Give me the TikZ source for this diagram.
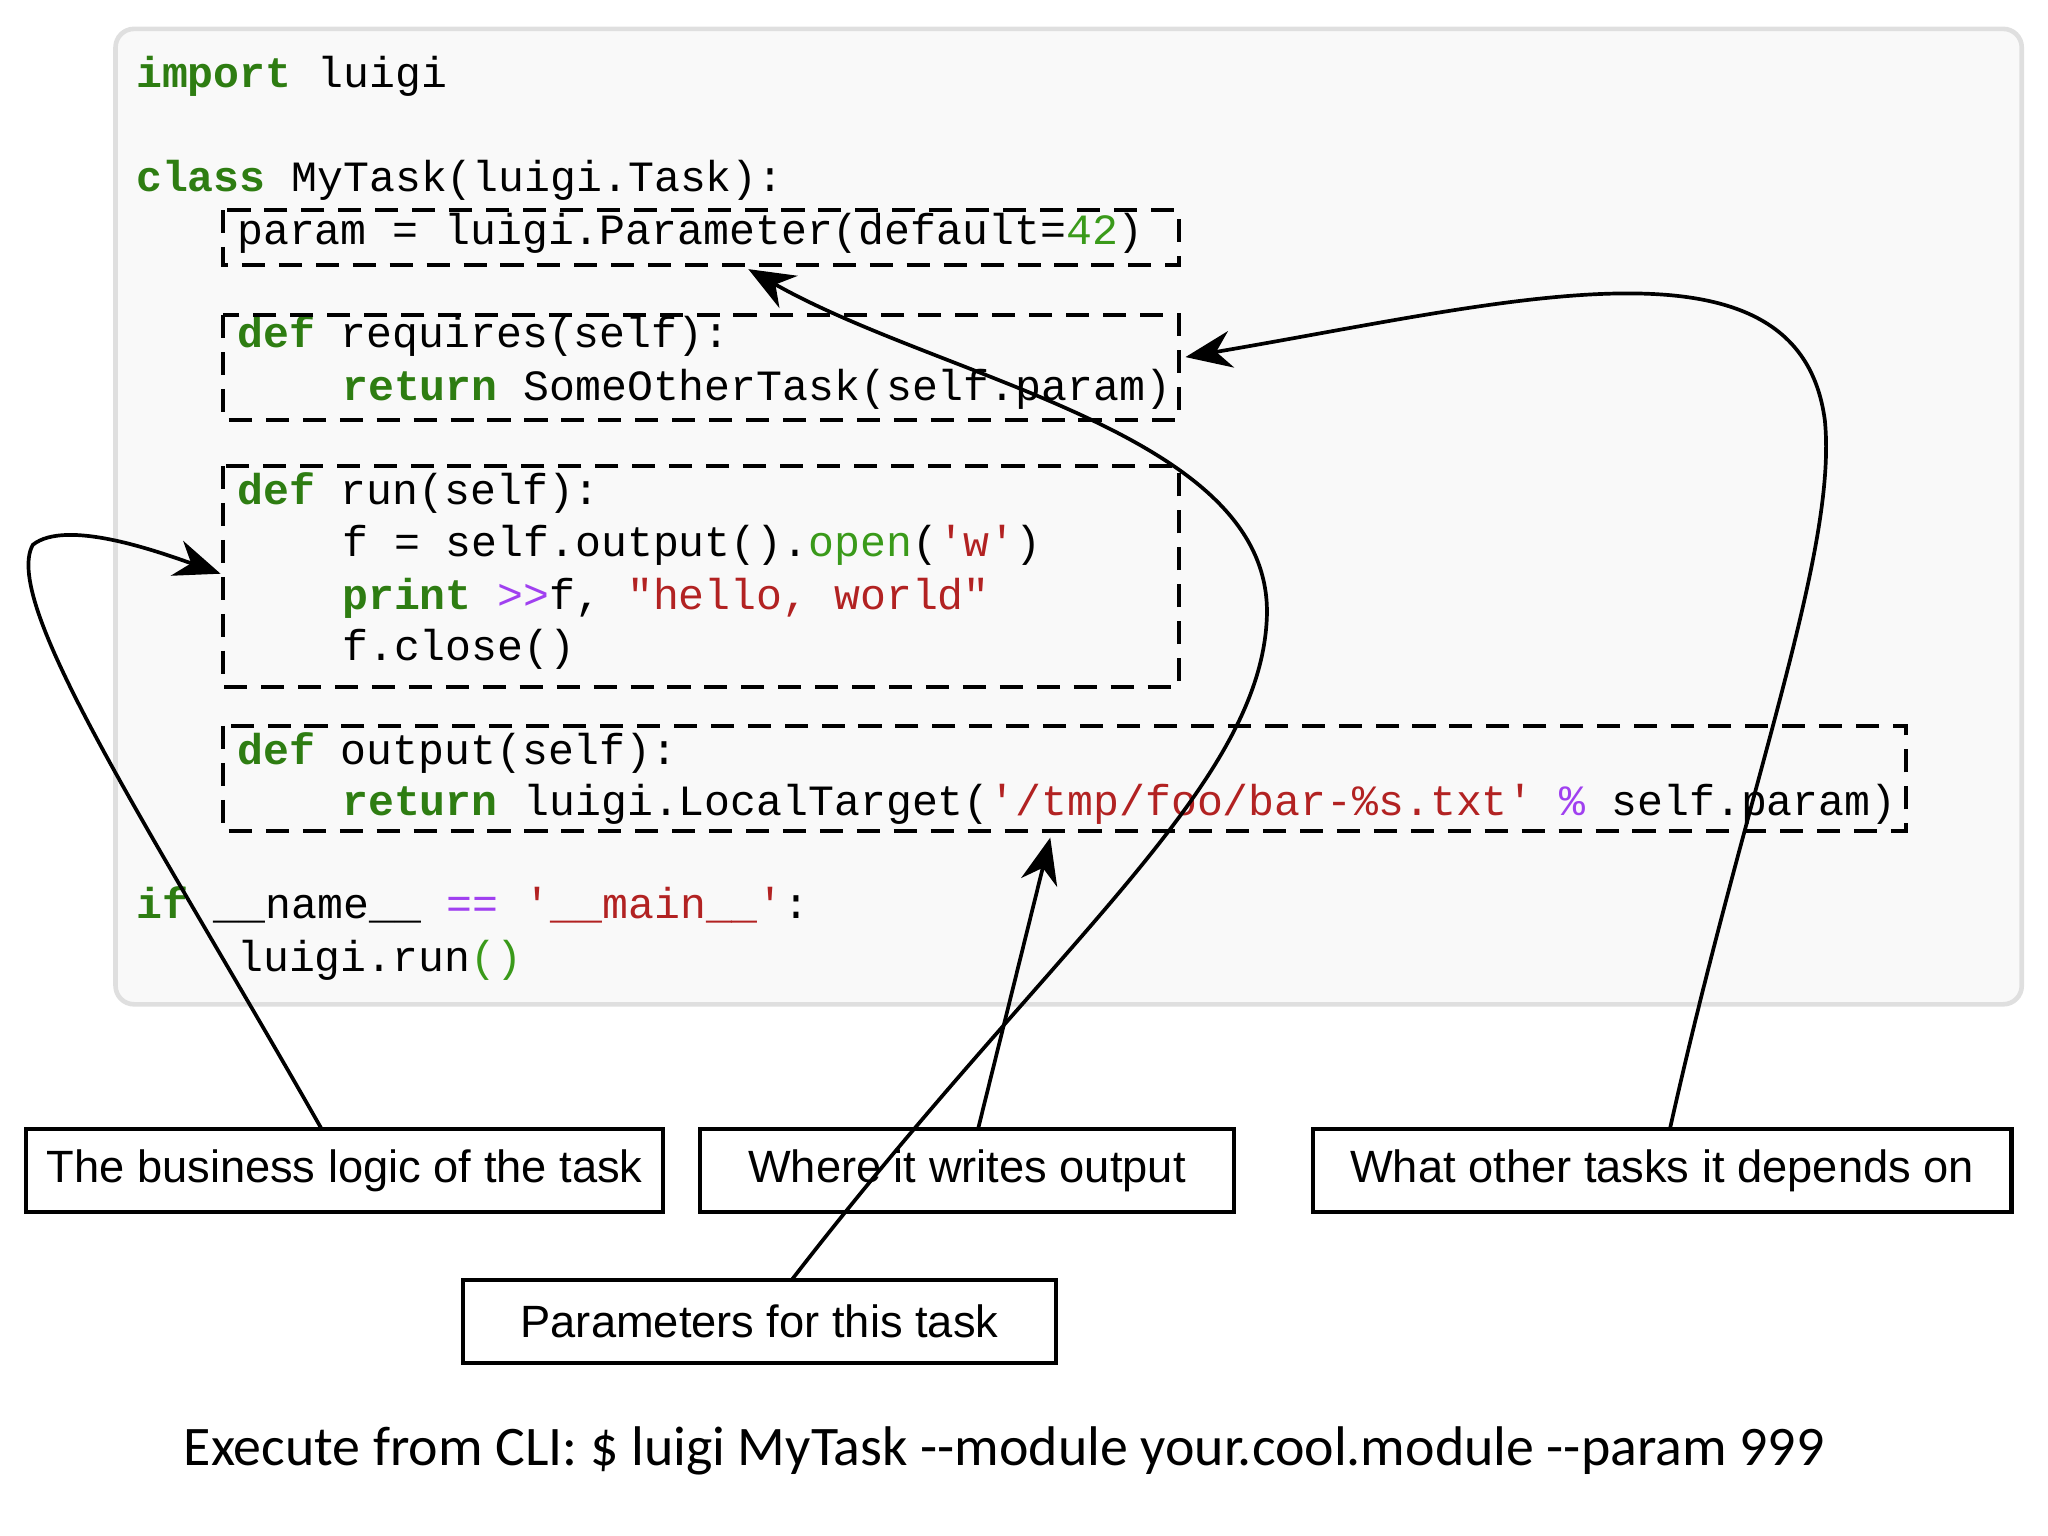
\documentclass[tikz,border=0pt]{standalone}
\usepackage{fontspec}
\setmainfont{Liberation Sans}
\newfontfamily\code{Liberation Mono}
\newfontfamily\capfont{Carlito}
\usetikzlibrary{arrows.meta}
\definecolor{kw}{HTML}{2E7D12}
\definecolor{st}{HTML}{B22222}
\definecolor{op}{HTML}{A040F0}
\definecolor{nm}{HTML}{3A9A1A}
\newcommand{\K}[1]{\textcolor{kw}{\bfseries #1}}
\newcommand{\Sx}[1]{\textcolor{st}{#1}}
\newcommand{\Ox}[1]{\textcolor{op}{#1}}
\begin{document}
\begin{tikzpicture}[x=0.01cm,y=-0.01cm,
  cl/.style={anchor=base west,inner sep=0pt,font=\code\fontsize{9.35pt}{10pt}\selectfont},
  dbox/.style={draw,dashed,line width=0.9pt,dash pattern=on 5pt off 3pt},
  lbox/.style={draw,line width=0.9pt,minimum height=0.63cm,font=\fontsize{9.8pt}{12pt}\selectfont},
  arr/.style={line width=0.8pt,-{Stealth[length=10pt,width=8pt]}},
  ln/.style={line width=0.8pt}]
\useasboundingbox (0,0) rectangle (1560,1170);
\draw[fill=gray!5,draw=gray!25,line width=1pt,rounded corners=4pt] (88,22) rectangle (1540,765);
\node[cl] (l1) at (103,67) {\K{import} luigi};
\node[cl] (l2) at (103,146) {\K{class} MyTask(luigi.Task):};
\node[cl] (l3) at (180,186) {param = luigi.Parameter(default=\textcolor{nm}{42})};
\node[cl] (l4) at (180,265) {\K{def} requires(self):};
\node[cl] (l5) at (260,305) {\K{return} SomeOtherTask(self.param)};
\node[cl] (l6) at (180,384) {\K{def} run(self):};
\node[cl] (l7) at (260,424) {f = self.output().\textcolor{nm}{open}(\Sx{'w'})};
\node[cl] (l8) at (260,464) {\K{print} \Ox{>>}f, \Sx{"hello, world"}};
\node[cl] (l9) at (260,503) {f.close()};
\node[cl] (l10) at (180,582) {\K{def} output(self):};
\node[cl] (l11) at (260,621) {\K{return} luigi.LocalTarget(\Sx{'/tmp/foo/bar-\%s.txt'} \Ox{\%} self.param)};
\node[cl] (l12) at (103,700) {\K{if} \_\_name\_\_ \Ox{==} \Sx{'\_\_main\_\_'}:};
\node[cl] (l13) at (180,740) {luigi.run\textcolor{nm}{()}};
\draw[dbox] (170,160) rectangle (898,202);
\draw[dbox] (170,240) rectangle (898,320);
\draw[dbox] (170,355) rectangle (898,523);
\draw[dbox] (170,553) rectangle (1452,633);
\node[lbox,minimum width=4.85cm] (b1) at (262.5,891.5) {The business logic of the task};
\node[lbox,minimum width=4.07cm] (b2) at (736.5,891.5) {Where it writes output};
\node[lbox,minimum width=5.32cm] (b3) at (1266,891.5) {What other tasks it depends on};
\node[lbox,minimum width=4.51cm] (b4) at (578.5,1006.5) {Parameters for this task};
\node[anchor=center,font=\capfont\fontsize{12.1pt}{14pt}\selectfont] (cap) at (765,1105) {Execute from CLI: \$ luigi MyTask --module your.cool.module --param 999};
\coordinate (runin) at (168,437);
\coordinate (outin) at (800,638);
\coordinate (parin) at (570,205);
\coordinate (reqin) at (903,272);
\draw[arr] (245,860) .. controls (120,640) and (0,460) .. (25,415) .. controls (50,395) and (120,420) .. (runin);
\draw[arr] (745,860) -- (outin);
\draw[arr] (603,975) .. controls (800,720) and (960,600) .. (965,470) .. controls (970,330) and (720,290) .. (parin);
\draw[arr] (1272,860) .. controls (1330,600) and (1400,420) .. (1390,320) .. controls (1370,170) and (1150,230) .. (reqin);
\end{tikzpicture}
\end{document}
